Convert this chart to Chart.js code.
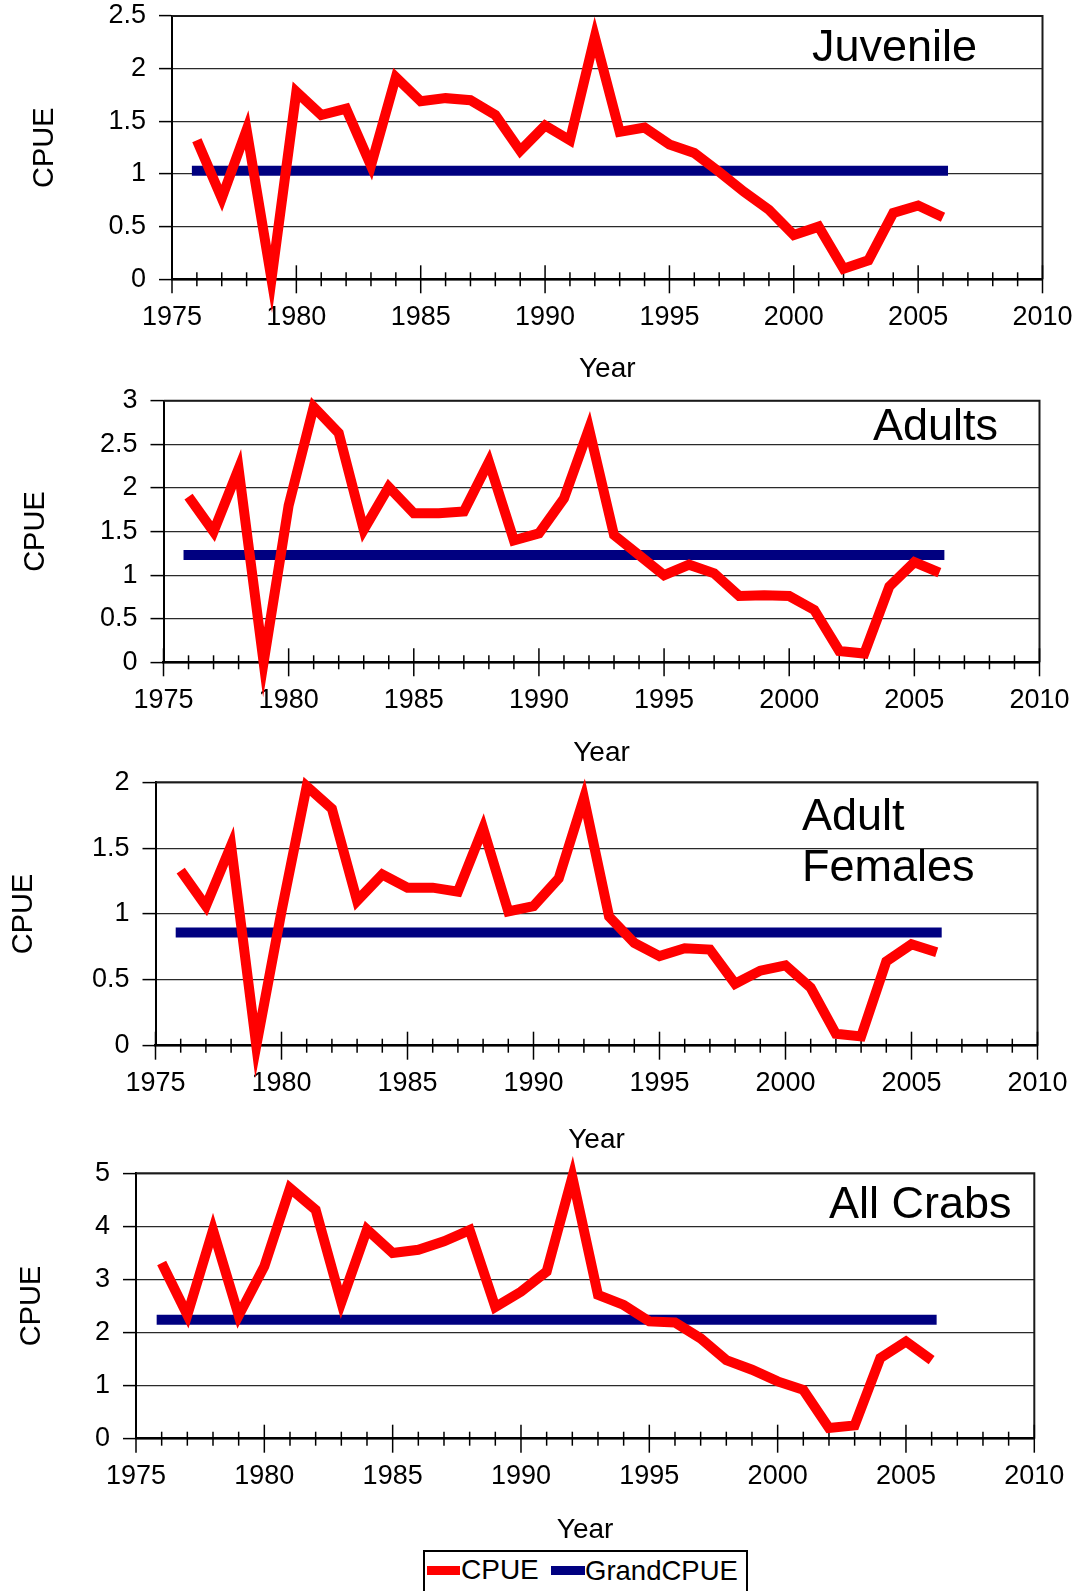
<!DOCTYPE html>
<html>
<head>
<meta charset="utf-8">
<script src="https://cdn.jsdelivr.net/npm/chart.js@4.4.0/dist/chart.umd.min.js"></script>
<style>
html,body{margin:0;padding:0;background:#fff;}
#wrap{position:relative;width:1079px;height:1591px;overflow:hidden;background:#fff;font-family:"Liberation Sans",Arial,sans-serif;color:#000;}
#wrap canvas{position:absolute;left:0;}
.ttl{position:absolute;font-size:45px;line-height:45px;white-space:nowrap;}
.leg{position:absolute;line-height:1;white-space:nowrap;}
.sw{position:absolute;height:9px;}
</style>
</head>
<body>
<div id="wrap">
  <canvas id="c1" width="1079" height="386" style="top:0px"></canvas>
  <canvas id="c2" width="1079" height="390" style="top:380px"></canvas>
  <canvas id="c3" width="1079" height="397" style="top:760px"></canvas>
  <canvas id="c4" width="1079" height="397" style="top:1150px"></canvas>

  <div class="ttl" style="left:812px;top:23px">Juvenile</div>
  <div class="ttl" style="left:873px;top:402px">Adults</div>
  <div class="ttl" style="left:802px;top:792px">Adult</div>
  <div class="ttl" style="left:802px;top:843px">Females</div>
  <div class="ttl" style="left:829px;top:1180px">All Crabs</div>

  <div style="position:absolute;left:423px;top:1550px;width:321px;height:60px;border:2px solid #000;"></div>
  <div class="sw" style="left:427px;top:1566px;width:33px;background:#ff0000"></div>
  <div class="leg" style="left:461px;top:1556px;font-size:28px">CPUE</div>
  <div class="sw" style="left:551px;top:1566px;width:34px;background:#000080"></div>
  <div class="leg" style="left:585px;top:1557px;font-size:27.5px">GrandCPUE</div>
</div>
<script>
// ---------------- data ----------------
const years = [1976,1977,1978,1979,1980,1981,1982,1983,1984,1985,1986,1987,1988,1989,1990,
               1991,1992,1993,1994,1995,1996,1997,1998,1999,2000,2001,2002,2003,2004,2005,2006];

const juvenileCPUE = [1.32,0.77,1.42,0.00,1.78,1.56,1.62,1.08,1.92,1.69,1.72,1.70,1.56,1.22,1.46,
                      1.32,2.30,1.40,1.44,1.28,1.20,1.02,0.83,0.66,0.42,0.50,0.10,0.18,0.63,0.70,0.59];
const adultsCPUE   = [1.90,1.50,2.22,0.00,1.80,2.93,2.63,1.52,2.01,1.71,1.71,1.73,2.30,1.40,1.48,
                      1.88,2.68,1.46,1.23,1.00,1.12,1.02,0.76,0.77,0.76,0.60,0.13,0.10,0.87,1.15,1.03];
const femalesCPUE  = [1.33,1.06,1.52,0.00,1.02,1.97,1.80,1.10,1.30,1.20,1.20,1.17,1.65,1.02,1.06,
                      1.27,1.88,0.98,0.78,0.68,0.74,0.73,0.47,0.57,0.61,0.44,0.09,0.07,0.64,0.77,0.71];
const allCrabsCPUE = [3.31,2.33,3.93,2.32,3.25,4.72,4.31,2.57,3.94,3.50,3.56,3.72,3.93,2.48,2.77,
                      3.15,4.93,2.71,2.52,2.21,2.19,1.89,1.48,1.30,1.08,0.92,0.20,0.25,1.52,1.83,1.48];

const grandYears = [1976, 2006];
const juvenileGrand = [1.03, 1.03];
const adultsGrand   = [1.23, 1.23];
const femalesGrand  = [0.86, 0.86];
const allCrabsGrand = [2.24, 2.24];

const xTickLabels = [1975,1980,1985,1990,1995,2000,2005,2010];
const xMinorTicks = [1975,1976,1977,1978,1979,1980,1981,1982,1983,1984,1985,1986,1987,1988,1989,1990,1991,1992,
                     1993,1994,1995,1996,1997,1998,1999,2000,2001,2002,2003,2004,2005,2006,2007,2008,2009,2010];
const yTicksJuvenile = [0,0.5,1,1.5,2,2.5];
const yTicksAdults   = [0,0.5,1,1.5,2,2.5,3];
const yTicksFemales  = [0,0.5,1,1.5,2];
const yTicksAllCrabs = [0,1,2,3,4,5];

const seriesLabels = ['CPUE','GrandCPUE'];
const xTitle = 'Year';
const yTitle = 'CPUE';

// ---------------- layout ----------------
const FONT = '"Liberation Sans", Arial, sans-serif';
Chart.defaults.font.family = FONT;
Chart.defaults.color = '#000';

const panels = [
  {id:'c1', top:0,    L:172,   R:1042.5, T:16,    B:279.3,  yTicks:yTicksJuvenile, vals:juvenileCPUE, grand:juvenileGrand, cpueX:44.5},
  {id:'c2', top:380,  L:163.5, R:1039.5, T:400.8, B:662.3,  yTicks:yTicksAdults,   vals:adultsCPUE,   grand:adultsGrand,   cpueX:35.5},
  {id:'c3', top:760,  L:155.5, R:1037.5, T:782.3, B:1045.7, yTicks:yTicksFemales,  vals:femalesCPUE,  grand:femalesGrand,  cpueX:23.5},
  {id:'c4', top:1150, L:136,   R:1034.3, T:1173.3,B:1438.7, yTicks:yTicksAllCrabs, vals:allCrabsCPUE, grand:allCrabsGrand, cpueX:31.5}
];

const framePlugin = {
  id: 'frame',
  beforeDatasetsDraw(chart) {
    const {ctx, chartArea: a, scales: {x}} = chart;
    ctx.save();
    ctx.strokeStyle = '#1a1a1a';
    ctx.lineWidth = 2;
    ctx.beginPath();
    ctx.moveTo(a.left, a.top);
    ctx.lineTo(a.right, a.top);
    ctx.lineTo(a.right, a.bottom);
    ctx.stroke();
    ctx.strokeStyle = '#000';
    ctx.lineWidth = 1.5;
    xMinorTicks.forEach(v => {
      const px = x.getPixelForValue(v);
      const len = xTickLabels.includes(v) ? 14 : 7;
      ctx.beginPath();
      ctx.moveTo(px, a.bottom - len);
      ctx.lineTo(px, a.bottom + len);
      ctx.stroke();
    });
    ctx.restore();
  }
};

panels.forEach(p => {
  const canvas = document.getElementById(p.id);
  const H = canvas.height;
  const yMax = p.yTicks[p.yTicks.length - 1];
  new Chart(canvas, {
    type: 'line',
    data: {
      datasets: [
        {
          label: seriesLabels[0],
          data: years.map((yr, i) => ({x: yr, y: p.vals[i]})),
          borderColor: '#ff0000',
          backgroundColor: '#ff0000',
          borderWidth: 10,
          borderJoinStyle: 'miter',
          borderCapStyle: 'butt',
          pointRadius: 0,
          tension: 0,
          clip: false,
          order: 0
        },
        {
          label: seriesLabels[1],
          data: grandYears.map((yr, i) => ({x: yr, y: p.grand[i]})),
          borderColor: '#000080',
          backgroundColor: '#000080',
          borderWidth: 10,
          borderCapStyle: 'square',
          pointRadius: 0,
          tension: 0,
          clip: false,
          order: 1
        }
      ]
    },
    options: {
      responsive: false,
      animation: false,
      events: [],
      layout: {padding: {left: 0, top: p.T - p.top, right: 1079 - p.R, bottom: 0}},
      plugins: {legend: {display: false}, tooltip: {enabled: false}, title: {display: false}},
      scales: {
        x: {
          type: 'linear',
          min: xTickLabels[0],
          max: xTickLabels[xTickLabels.length - 1],
          afterBuildTicks: s => { s.ticks = xTickLabels.map(v => ({value: v})); },
          afterFit: s => { s.height = H - (p.B - p.top); s.paddingLeft = 0; s.paddingRight = 0; },
          ticks: {callback: v => String(v), font: {size: 27}, padding: 22, maxRotation: 0, autoSkip: false, color: '#000'},
          grid: {display: true, drawOnChartArea: false, drawTicks: false},
          border: {display: true, color: '#000', width: 2.5},
          title: {display: true, text: xTitle, font: {size: 28}, padding: {top: 0, bottom: 0}, color: '#000'}
        },
        y: {
          type: 'linear',
          min: 0,
          max: yMax,
          afterBuildTicks: s => { s.ticks = p.yTicks.map(v => ({value: v})); },
          afterFit: s => { s.width = p.L; s.paddingTop = 0; s.paddingBottom = 0; },
          ticks: {callback: v => String(v), font: {size: 27}, padding: 13, color: '#000'},
          grid: {color: '#2a2a2a', lineWidth: 1.2, tickLength: 13, tickColor: '#000', tickWidth: 1.5},
          border: {display: true, color: '#000', width: 2},
          title: {display: true, text: yTitle, font: {size: 29}, padding: {top: p.cpueX - 17.4, bottom: 0}, color: '#000'}
        }
      }
    },
    plugins: [framePlugin]
  });
});
</script>
</body>
</html>
